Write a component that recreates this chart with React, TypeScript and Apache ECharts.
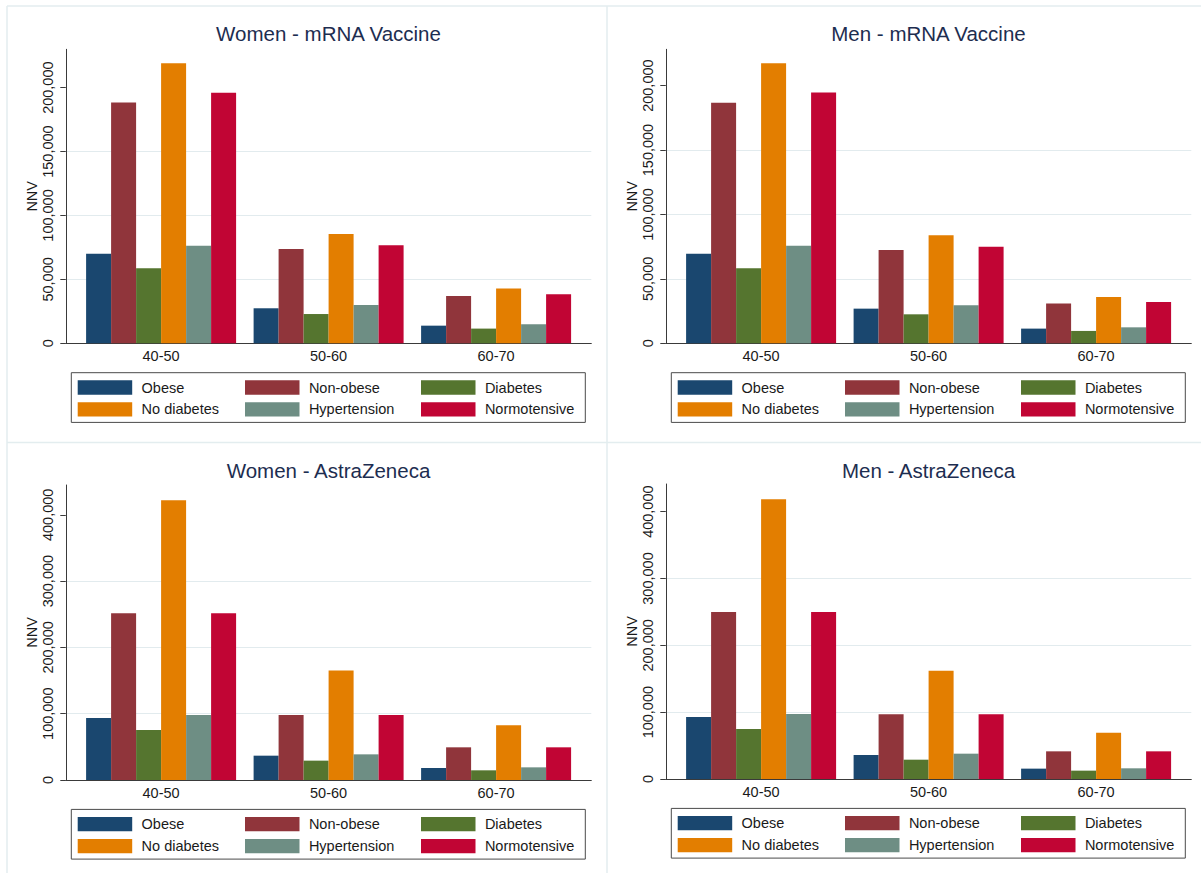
import React, { useEffect, useRef } from "react";
import * as echarts from "echarts";

// Age groups on the category axis
const ageGroups = ["40-50", "50-60", "60-70"];

// Subgroups drawn as bars inside each age group
const seriesNames = ["Obese", "Non-obese", "Diabetes", "No diabetes", "Hypertension", "Normotensive"];
const seriesColors = ["#1a476f", "#90353b", "#55752f", "#e37e00", "#6e8e84", "#c10534"];

// NNV values: one row per subgroup, one value per age group
const womenMrna = [
  [70100, 27400, 13800],
  [188300, 73800, 37000],
  [58700, 22900, 11500],
  [219000, 85500, 42800],
  [76400, 30000, 14900],
  [196000, 76700, 38300],
];
const menMrna = [
  [69600, 26900, 11400],
  [186800, 72400, 30800],
  [58200, 22500, 9600],
  [217300, 83800, 36000],
  [75800, 29500, 12400],
  [194600, 75000, 32100],
];
const womenAz = [
  [93600, 36700, 18100],
  [251600, 98100, 49300],
  [75500, 29200, 14600],
  [422000, 165000, 82500],
  [98100, 38700, 19100],
  [251600, 98100, 49300],
];
const menAz = [
  [92800, 35900, 15500],
  [250000, 96800, 41400],
  [74800, 28900, 12500],
  [418500, 162000, 69300],
  [97300, 37900, 16000],
  [250000, 96800, 41400],
];

// Tick values of the NNV axes
const mrnaTicks = [0, 50000, 100000, 150000, 200000];
const azTicks = [0, 100000, 200000, 300000, 400000];

const FONT = '"Liberation Sans", Arial, Helvetica, sans-serif';

const panels = [
  { title: "Women - mRNA Vaccine", data: womenMrna, max: 230000, ticks: mrnaTicks, ox: 0, top: 49.3, base: 343.3, titleY: 33.3 },
  { title: "Men - mRNA Vaccine", data: menMrna, max: 228200, ticks: mrnaTicks, ox: 600, top: 49.3, base: 343.3, titleY: 33.3 },
  { title: "Women - AstraZeneca", data: womenAz, max: 445000, ticks: azTicks, ox: 0, top: 485, base: 780, titleY: 470.7 },
  { title: "Men - AstraZeneca", data: menAz, max: 441400, ticks: azTicks, ox: 600, top: 484, base: 779, titleY: 470 },
];

// Legend laid out in three columns of two entries
const legendColumns = [
  ["Obese", "No diabetes"],
  ["Non-obese", "Hypertension"],
  ["Diabetes", "Normotensive"],
];
const legendColumnX = [77.7, 245, 421];

function buildOption() {
  const grid: any[] = [];
  const xAxis: any[] = [];
  const yAxis: any[] = [];
  const series: any[] = [];
  const legend: any[] = [];
  const graphic: any[] = [];

  // faint panel frames
  const frameColor = "#e3edef";
  graphic.push(
    { type: "line", shape: { x1: 7, y1: 6, x2: 7, y2: 873 }, style: { stroke: frameColor, lineWidth: 1.5 } },
    { type: "line", shape: { x1: 607, y1: 6, x2: 607, y2: 873 }, style: { stroke: frameColor, lineWidth: 1.5 } },
    { type: "line", shape: { x1: 7, y1: 6, x2: 1201, y2: 6 }, style: { stroke: frameColor, lineWidth: 1.5 } },
    { type: "line", shape: { x1: 7, y1: 442.5, x2: 1201, y2: 442.5 }, style: { stroke: frameColor, lineWidth: 1.5 } }
  );

  panels.forEach((p, i) => {
    const height = p.base - p.top;
    const interval = p.ticks[1] - p.ticks[0];

    // frame grid: axes, gridlines and tick labels
    grid.push({ left: p.ox + 65.8, top: p.top, width: 525.5, height, containLabel: false });
    // bar grid: bars and category labels
    grid.push({ left: p.ox + 77.35, top: p.top, width: 502.5, height, containLabel: false });

    xAxis.push({
      type: "value",
      gridIndex: 2 * i,
      min: 0,
      max: 1,
      axisLine: { show: true, lineStyle: { color: "#3a3a3a", width: 1 } },
      axisTick: { show: false },
      axisLabel: { show: false },
      splitLine: { show: false },
    });
    xAxis.push({
      type: "category",
      gridIndex: 2 * i + 1,
      data: ageGroups,
      axisLine: { show: false },
      axisTick: { show: false },
      axisLabel: { show: true, margin: 5, fontSize: 14.5, color: "#1a1a1a", fontFamily: FONT },
      splitLine: { show: false },
    });

    yAxis.push({
      type: "value",
      gridIndex: 2 * i,
      min: 0,
      max: p.max,
      interval,
      name: "NNV",
      nameLocation: "middle",
      nameRotate: 90,
      nameGap: 26,
      nameTextStyle: { fontSize: 14.5, color: "#1a1a1a", fontFamily: FONT },
      axisLine: { show: true, lineStyle: { color: "#3a3a3a", width: 1 } },
      axisTick: { show: true, length: 5.5, customValues: p.ticks, lineStyle: { color: "#3a3a3a", width: 1 } },
      axisLabel: {
        show: true,
        rotate: 90,
        margin: 10,
        fontSize: 14.5,
        color: "#1a1a1a",
        fontFamily: FONT,
        showMaxLabel: false,
        formatter: (v: number) => (v % interval === 0 ? v.toLocaleString("en-US") : ""),
      },
      splitLine: { show: true, showMinLine: false, showMaxLine: false, lineStyle: { color: "#e2ebee", width: 1 } },
    });
    yAxis.push({ type: "value", gridIndex: 2 * i + 1, min: 0, max: p.max, show: false });

    p.data.forEach((vals, j) => {
      series.push({
        type: "bar",
        name: seriesNames[j],
        xAxisIndex: 2 * i + 1,
        yAxisIndex: 2 * i + 1,
        data: vals,
        barWidth: 25,
        barGap: "0%",
        itemStyle: { color: seriesColors[j] },
        emphasis: { disabled: true },
      });
    });

    // legend box
    graphic.push({
      type: "rect",
      shape: { x: p.ox + 71.3, y: p.base + 29.4, width: 514, height: 49.7 },
      style: { fill: "none", stroke: "#4a4a4a", lineWidth: 1 },
    });
    legendColumns.forEach((names, c) => {
      legend.push({
        orient: "vertical",
        left: p.ox + legendColumnX[c],
        top: p.base + 36.7,
        padding: 0,
        itemWidth: 54.5,
        itemHeight: 14.3,
        itemGap: 6.9,
        icon: "rect",
        selectedMode: false,
        data: names,
        textStyle: { fontSize: 14.5, color: "#1a1a1a", fontFamily: FONT, lineHeight: 14.3, padding: [0, 0, 0, 4.4] },
      });
    });

    // panel title
    graphic.push({
      type: "text",
      x: p.ox + 328.5,
      y: p.titleY,
      style: {
        text: p.title,
        fill: "#1d2d50",
        fontSize: 20.5,
        fontFamily: FONT,
        align: "center",
        verticalAlign: "middle",
      },
    });
  });

  return {
    animation: false,
    backgroundColor: "#ffffff",
    grid,
    xAxis,
    yAxis,
    series,
    legend,
    graphic,
  };
}

export default function App() {
  const ref = useRef<HTMLDivElement>(null);

  useEffect(() => {
    if (!ref.current) return;
    const chart = echarts.init(ref.current, undefined, { renderer: "svg" });
    chart.setOption(buildOption());
    return () => chart.dispose();
  }, []);

  return (
    <div
      ref={ref}
      style={{ position: "absolute", left: 0, top: 0, width: 1201, height: 873, background: "#ffffff" }}
    />
  );
}
